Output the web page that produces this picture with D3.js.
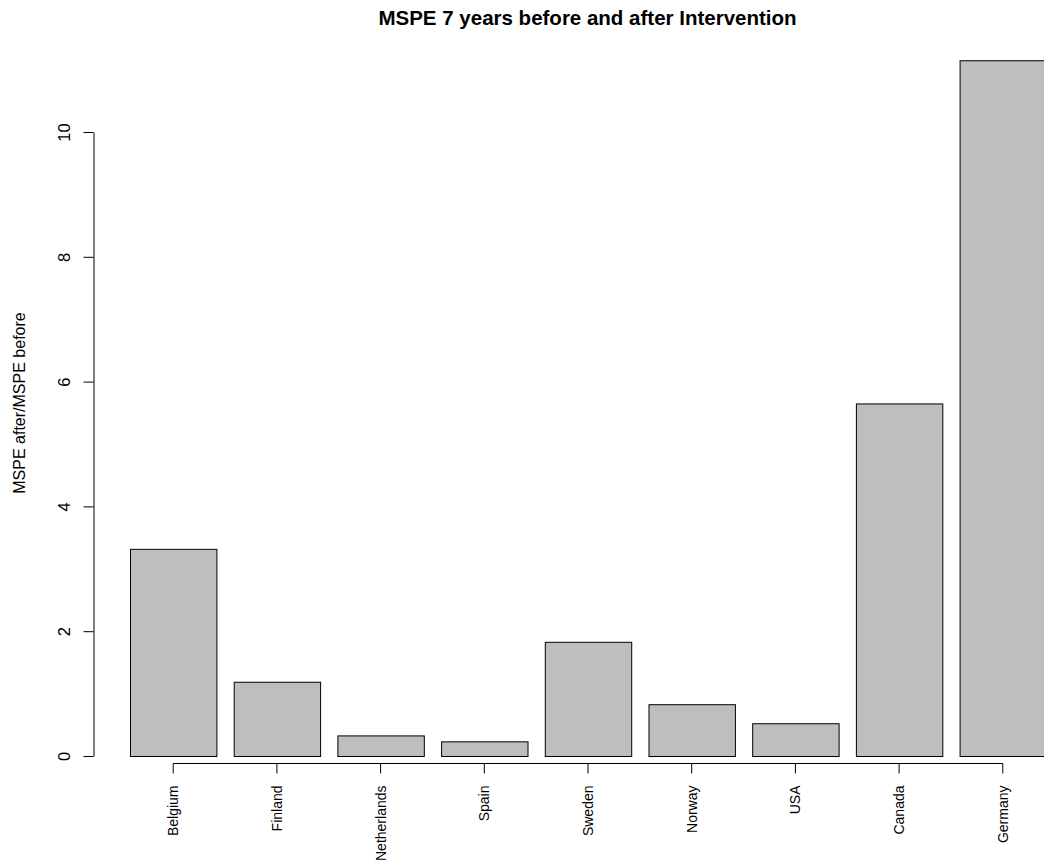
<!DOCTYPE html>
<html>
<head>
<meta charset="utf-8">
<script src="https://cdn.jsdelivr.net/npm/d3@7"></script>
<style>
  body { margin: 0; background: #fff; }
  text { font-family: "Liberation Sans", Arial, Helvetica, sans-serif; }
</style>
</head>
<body>
<svg id="chart" width="1044" height="862"></svg>
<script>
const countries = ["Belgium", "Finland", "Netherlands", "Spain", "Sweden", "Norway", "USA", "Canada", "Germany"];
const ratios = [3.32, 1.19, 0.33, 0.235, 1.83, 0.83, 0.525, 5.65, 11.15];
const yTicks = [0, 2, 4, 6, 8, 10];

const svg = d3.select("#chart");

// plot area in pixels (R barplot: space = 0.2, bars start after the y axis)
const x = d3.scaleBand()
  .domain(countries)
  .range([130, 1046])
  .paddingInner(0.2 / 1.2)
  .paddingOuter(0);

const y = d3.scaleLinear()
  .domain([0, 10])
  .range([756, 132]);

const axisX = 93.5;
const axisY = 763.5;

// bars
svg.append("g")
  .selectAll("rect")
  .data(countries)
  .join("rect")
  .attr("x", d => x(d) + 0.5)
  .attr("y", (d, i) => y(ratios[i]) + 0.5)
  .attr("width", x.bandwidth())
  .attr("height", (d, i) => y(0) - y(ratios[i]))
  .attr("fill", "#bebebe")
  .attr("stroke", "#000")
  .attr("stroke-width", 1);

// y axis
const gy = svg.append("g")
  .attr("transform", `translate(${axisX},0)`)
  .call(d3.axisLeft(y).tickValues(yTicks).tickSize(10).tickSizeOuter(0));
gy.selectAll("text")
  .attr("x", 0).attr("y", 0).attr("dy", 0)
  .attr("text-anchor", "middle")
  .attr("transform", "translate(-24,0) rotate(-90)")
  .attr("font-size", 16.5)
  .attr("fill", "#000");
gy.selectAll("path, line").attr("stroke", "#000");
gy.attr("font-family", null);

// x axis
const centers = countries.map(c => x(c) + x.bandwidth() / 2);
const gx = svg.append("g")
  .attr("transform", `translate(0,${axisY})`)
  .call(d3.axisBottom(x).tickSize(10).tickSizeOuter(0));
gx.select(".domain")
  .attr("d", `M${centers[0]},0H${centers[centers.length - 1]}`)
  .attr("stroke", "#000");
gx.selectAll("line").attr("stroke", "#000");
gx.selectAll("text")
  .attr("x", 0).attr("y", 0).attr("dy", 0)
  .attr("text-anchor", "end")
  .attr("transform", "translate(5,22) rotate(-90)")
  .attr("font-size", 14)
  .attr("fill", "#000");
gx.attr("font-family", null);

// y axis title
svg.append("text")
  .attr("transform", "translate(25,403) rotate(-90)")
  .attr("text-anchor", "middle")
  .attr("font-size", 16)
  .text("MSPE after/MSPE before");

// title
svg.append("text")
  .attr("x", 587.5)
  .attr("y", 25)
  .attr("text-anchor", "middle")
  .attr("font-size", 20.5)
  .attr("font-weight", "bold")
  .text("MSPE 7 years before and after Intervention");
</script>
</body>
</html>
